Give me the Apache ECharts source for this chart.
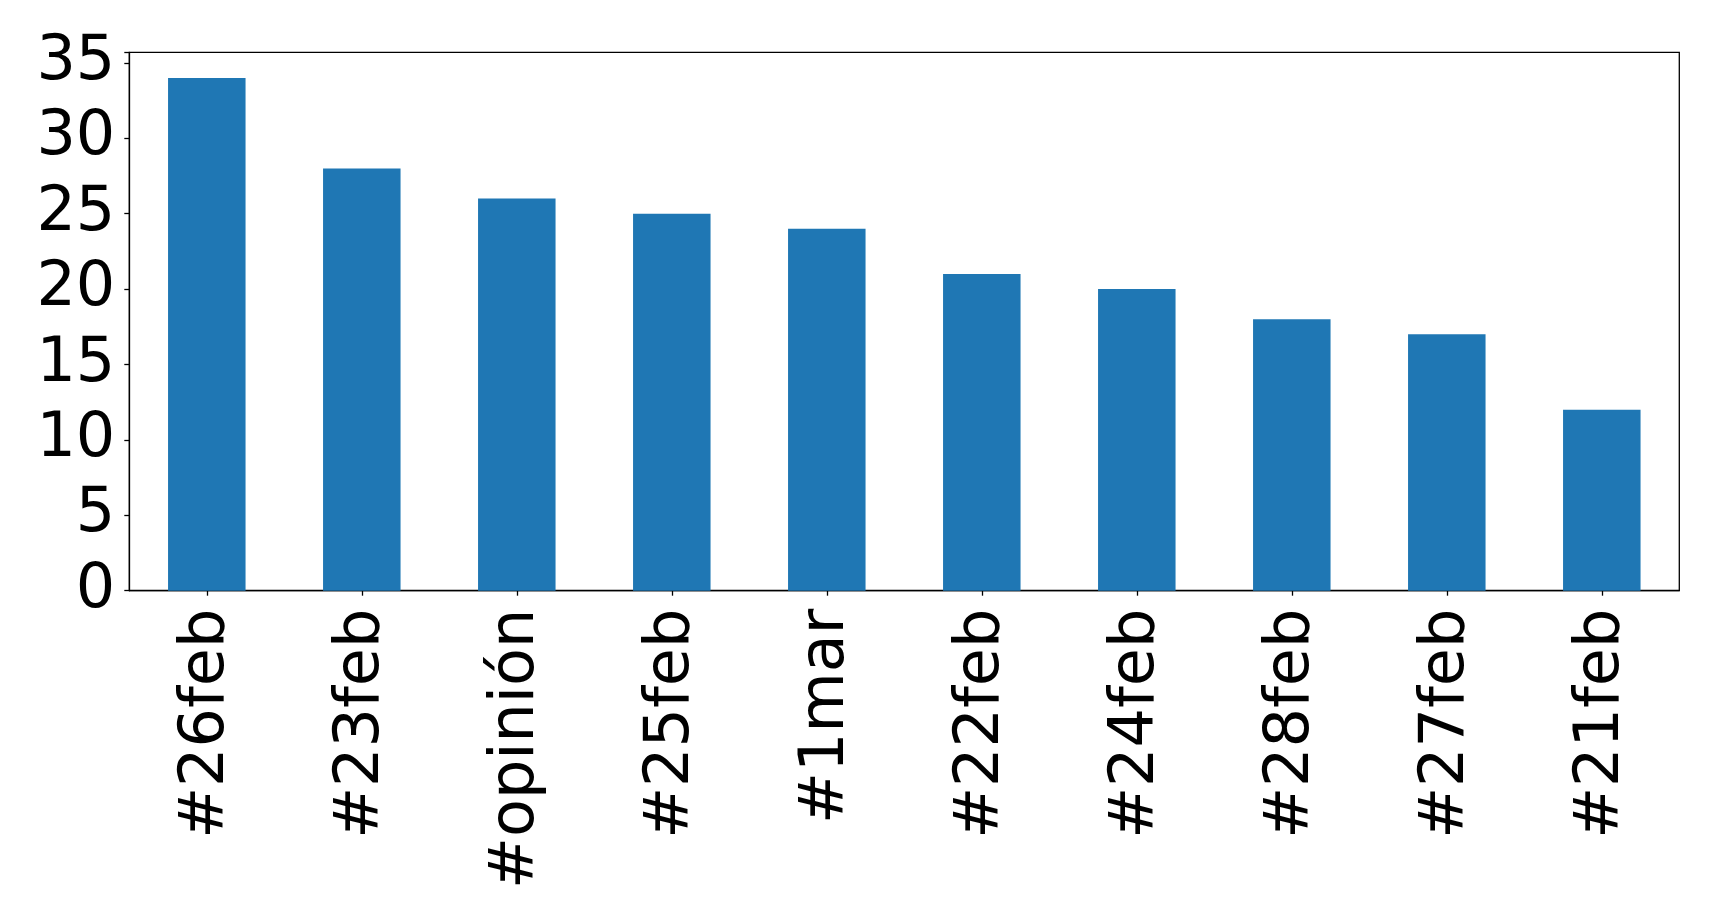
<!DOCTYPE html>
<html>
<head>
<meta charset="utf-8">
<script src="https://cdn.jsdelivr.net/npm/echarts@6/dist/echarts.min.js"></script>
<style>
html,body{margin:0;padding:0;background:#fff;}
#chart{width:1719px;height:923px;}
</style>
</head>
<body>
<div id="chart"></div>
<script>
const categories = ['#26feb', '#23feb', '#opinión', '#25feb', '#1mar', '#22feb', '#24feb', '#28feb', '#27feb', '#21feb'];
const counts = [34, 28, 26, 25, 24, 21, 20, 18, 17, 12];
const yTicks = [0, 5, 10, 15, 20, 25, 30, 35];

const chart = echarts.init(document.getElementById('chart'), null, {renderer: 'canvas'});
const font = 'DejaVu Sans';
chart.setOption({
  animation: false,
  backgroundColor: '#ffffff',
  grid: {
    left: 129.3, right: 39.7, top: 52.3, bottom: 332.3,
    show: true, borderColor: '#000', borderWidth: 1.3, backgroundColor: 'transparent'
  },
  xAxis: {
    type: 'category',
    data: categories,
    boundaryGap: true,
    axisLine: {show: true, lineStyle: {color: '#000', width: 1.3}},
    axisTick: {show: true, alignWithLabel: true, length: 5, lineStyle: {color: '#000', width: 1.3}},
    axisLabel: {rotate: 90, margin: 18, fontFamily: font, fontSize: 62, color: '#000', interval: 0}
  },
  yAxis: {
    type: 'value',
    min: 0, max: 35.7, interval: 5,
    splitLine: {show: false},
    axisLine: {show: true, lineStyle: {color: '#000', width: 1.3}},
    axisTick: {show: true, length: 5, lineStyle: {color: '#000', width: 1.3}},
    axisLabel: {
      margin: 14, fontFamily: font, fontSize: 62, color: '#000',
      formatter: function (v) { return yTicks.indexOf(v) >= 0 ? String(v) : ''; }
    }
  },
  series: [{
    type: 'bar',
    data: counts,
    barWidth: '50%',
    itemStyle: {color: '#1f77b4'}
  }]
});
</script>
</body>
</html>
